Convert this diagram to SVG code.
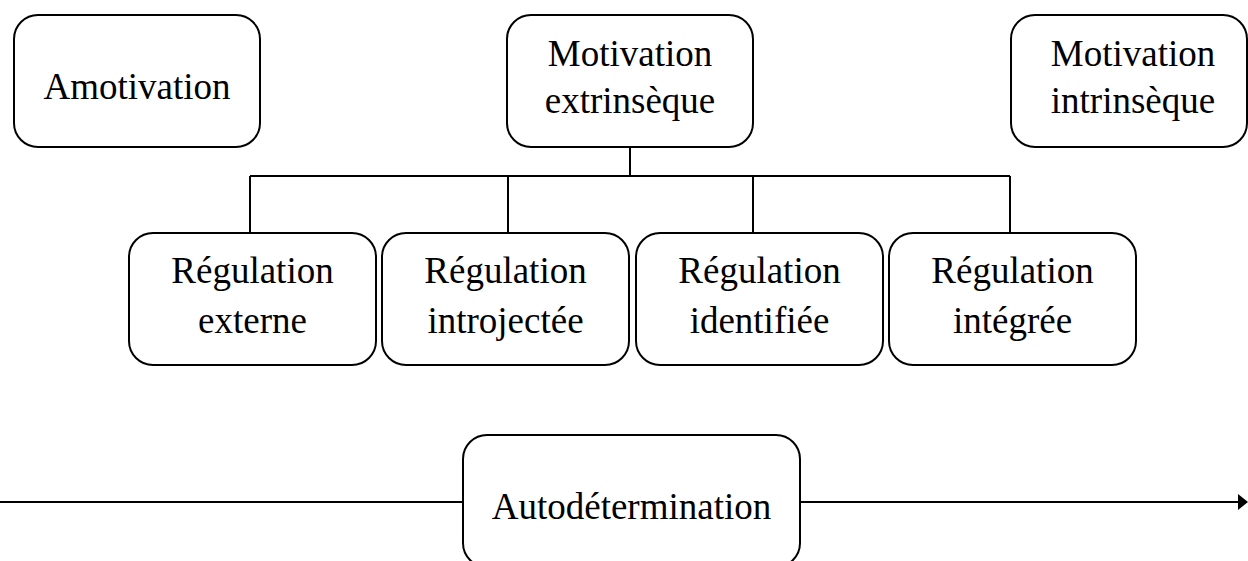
<svg xmlns="http://www.w3.org/2000/svg" width="1248" height="561" viewBox="0 0 1248 561">
<style>
.box{fill:#fff;stroke:#000;stroke-width:2}
.t{font-family:"Liberation Serif","Times New Roman",serif;font-size:37px;fill:#000;text-anchor:middle}
.c{stroke:#000;stroke-width:2;fill:none}
</style>
<defs>
<marker id="ah" markerWidth="10" markerHeight="16" refX="9" refY="8" orient="auto" markerUnits="userSpaceOnUse">
<path d="M0,0 L10,8 L0,16 Z" fill="#000"/>
</marker>
</defs>
<rect width="1248" height="561" fill="#fff"/>
<g id="connectors">
<line class="c" x1="630" y1="147" x2="630" y2="176"/>
<line class="c" x1="250" y1="176" x2="1010" y2="176"/>
<line class="c" x1="250" y1="176" x2="250" y2="233"/>
<line class="c" x1="508" y1="176" x2="508" y2="233"/>
<line class="c" x1="753" y1="176" x2="753" y2="233"/>
<line class="c" x1="1010" y1="176" x2="1010" y2="233"/>
<line class="c" x1="0" y1="502" x2="463" y2="502"/>
<line class="c" x1="800" y1="502" x2="1247" y2="502" marker-end="url(#ah)"/>
</g>
<g id="amotivation">
<rect class="box" x="14" y="15" width="246" height="132" rx="24"/>
<text class="t" x="137" y="99">Amotivation</text>
</g>
<g id="motivation-extrinseque">
<rect class="box" x="507" y="15" width="246" height="132" rx="24"/>
<text class="t" x="630" y="66">Motivation</text>
<text class="t" x="630" y="113">extrinsèque</text>
</g>
<g id="motivation-intrinseque">
<rect class="box" x="1011" y="15" width="236" height="132" rx="24"/>
<text class="t" x="1133" y="66">Motivation</text>
<text class="t" x="1133" y="113">intrinsèque</text>
</g>
<g id="regulation-externe">
<rect class="box" x="129" y="233" width="247" height="132" rx="24"/>
<text class="t" x="252.5" y="283">Régulation</text>
<text class="t" x="252.5" y="333">externe</text>
</g>
<g id="regulation-introjectee">
<rect class="box" x="382" y="233" width="247" height="132" rx="24"/>
<text class="t" x="505.5" y="283">Régulation</text>
<text class="t" x="505.5" y="333">introjectée</text>
</g>
<g id="regulation-identifiee">
<rect class="box" x="636" y="233" width="247" height="132" rx="24"/>
<text class="t" x="759.5" y="283">Régulation</text>
<text class="t" x="759.5" y="333">identifiée</text>
</g>
<g id="regulation-integree">
<rect class="box" x="889" y="233" width="247" height="132" rx="24"/>
<text class="t" x="1012.5" y="283">Régulation</text>
<text class="t" x="1012.5" y="333">intégrée</text>
</g>
<g id="autodetermination">
<rect class="box" x="463" y="435" width="337" height="132" rx="24"/>
<text class="t" x="631.5" y="519">Autodétermination</text>
</g>
</svg>
